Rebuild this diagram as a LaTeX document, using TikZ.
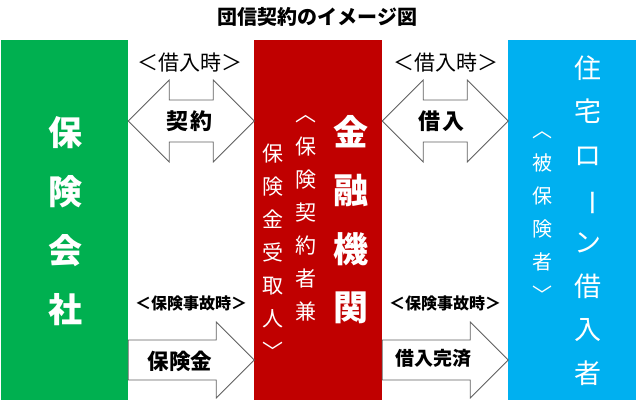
\documentclass[tikz,border=0pt]{standalone}
\usepackage{fontspec}
\setmainfont{Noto Sans CJK JP}
\usetikzlibrary{positioning}
\definecolor{insgreen}{HTML}{00B050}
\definecolor{bankred}{HTML}{C00000}
\definecolor{loanblue}{HTML}{00B0F0}
\definecolor{arrowgray}{HTML}{606060}
\tikzstyle{party} = [draw=none, inner sep=0pt, minimum width=128pt, minimum height=360pt]
\tikzstyle{blockarrow} = [draw=arrowgray, line width=0.8pt, fill=white, line join=miter]
\tikzstyle{tate} = [text=white, align=center, inner sep=0pt]

\begin{document}
\begin{tikzpicture}[x=1pt,y=-1pt,every node/.style={inner sep=0pt}]
    \useasboundingbox (0,0) rectangle (637,402);
    % the three parties
    \node (ins) [party, fill=insgreen, minimum width=127pt] at (64.5,220) {};
    \node (bank) [party, fill=bankred] at (318,220) {};
    \node (loan) [party, fill=loanblue] at (572,220) {};
    % title
    \node (title) at (317.5,16.5) {\fontsize{20}{20}\selectfont\bfseries 団信契約のイメージ図};
    % vertical names
    \node (insname) [tate, font=\fontsize{34}{59}\selectfont\bfseries] at (65,221) {保\\険\\会\\社};
    \node (bankname) [tate, font=\fontsize{35}{58.3}\selectfont\bfseries] at (351,219.5) {金\\融\\機\\関};
    \node (bankrole1) [tate, font=\fontsize{21}{33}\selectfont] at (306,218.5) {︿\\保\\険\\契\\約\\者\\兼};
    \node (bankrole2) [tate, font=\fontsize{21}{33}\selectfont] at (272.5,251.5) {保\\険\\金\\受\\取\\人\\﹀};
    \node (loanname) [tate, font=\fontsize{27}{43.6}\selectfont] at (588,220.5) {住\\宅\\ロ\\\rotatebox[origin=c]{-90}{ー}\\ン\\借\\入\\者};
    \node (loanrole) [tate, font=\fontsize{20}{33}\selectfont] at (542.5,217) {︿\\被\\保\\険\\者\\﹀};
    % arrows at the time of borrowing
    \draw[blockarrow] (ins.east |- 0,121) -- ++(41,-41) -- ++(0,20) -- ++(44,0) -- ++(0,-20) -- ++(41,41)
        -- ++(-41,41) -- ++(0,-20) -- ++(-44,0) -- ++(0,20) -- cycle;
    \draw[blockarrow] (bank.east |- 0,121) -- ++(41,-41) -- ++(0,20) -- ++(44,0) -- ++(0,-20) -- ++(41,41)
        -- ++(-41,41) -- ++(0,-20) -- ++(-44,0) -- ++(0,20) -- cycle;
    % arrows at the insured event
    \draw[blockarrow] (ins.east |- 0,340) -- ++(88,0) -- ++(0,-18) -- ++(38,38) -- ++(-38,38) -- ++(0,-18)
        -- ++(-88,0) -- cycle;
    \draw[blockarrow] (bank.east |- 0,340) -- ++(88,0) -- ++(0,-18) -- ++(38,38) -- ++(-38,38) -- ++(0,-18)
        -- ++(-88,0) -- cycle;
    % labels
    \node (when1) at (189.5,63) {\fontsize{21}{21}\selectfont ＜借入時＞};
    \node (when2) at (446,63) {\fontsize{21}{21}\selectfont ＜借入時＞};
    \node (event1) at (191,303) {\fontsize{16}{16}\selectfont\bfseries ＜保険事故時＞};
    \node (event2) at (445,303) {\fontsize{16}{16}\selectfont\bfseries ＜保険事故時＞};
    \node (contract) at (189.5,121) {\fontsize{22}{22}\selectfont\bfseries 契\hspace{3pt}約};
    \node (loanout) at (441.5,121) {\fontsize{22}{22}\selectfont\bfseries 借\hspace{3pt}入};
    \node (payout) at (180,361) {\fontsize{21.5}{22}\selectfont\bfseries 保険金};
    \node (repaid) at (433,358) {\fontsize{19}{20}\selectfont\bfseries 借入完済};
\end{tikzpicture}
\end{document}
